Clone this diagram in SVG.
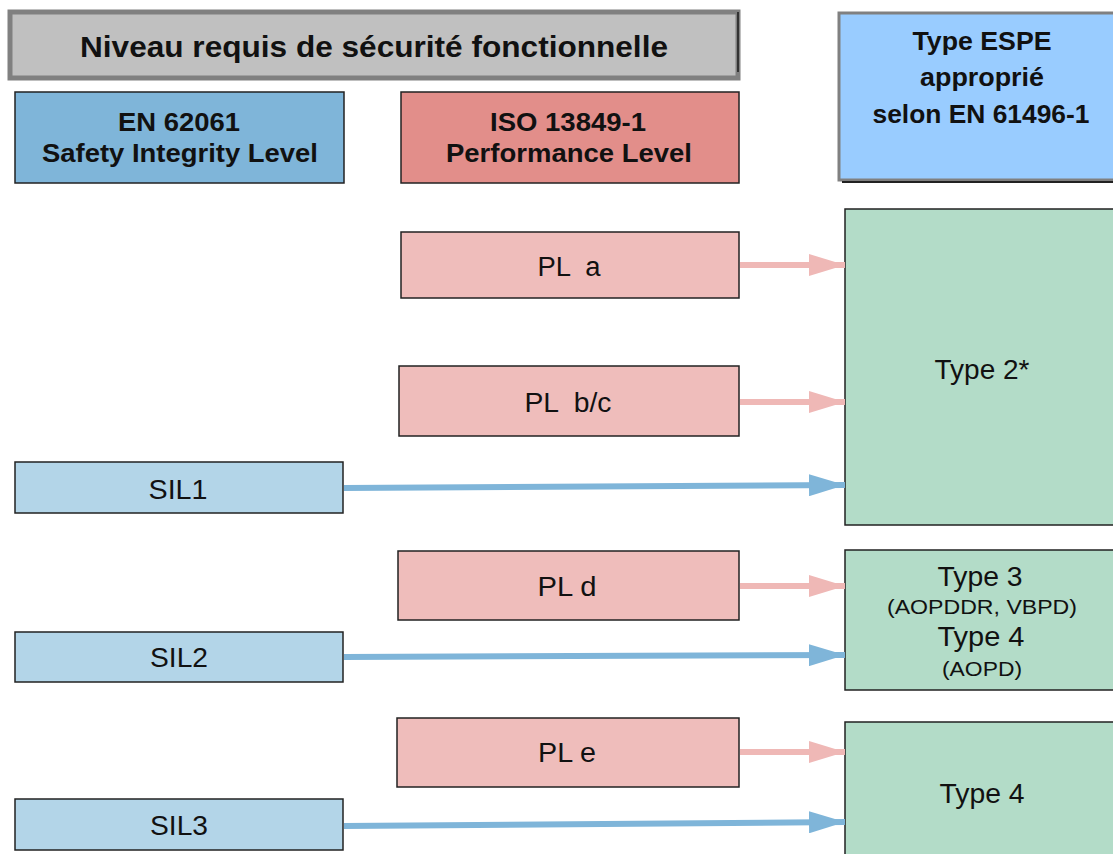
<svg xmlns="http://www.w3.org/2000/svg" width="1113" height="854" viewBox="0 0 1113 854">
<style>
text{font-family:"Liberation Sans",Arial,sans-serif;fill:#111;text-anchor:middle}
.b{font-weight:bold}
.box{stroke:#222;stroke-width:1.5}
.pl{fill:#efbdbb}
.sil{fill:#b3d5e8}
.ty{fill:#b3dcc8}
.t26{font-size:27px}
.t22{font-size:25px}
.t18{font-size:20px}
</style>
<defs>
<marker id="ap" viewBox="0 0 36 22" refX="36" refY="11" markerWidth="6" markerHeight="3.67" markerUnits="strokeWidth" orient="auto"><path d="M0,0L36,11L0,22z" fill="#efb8b6"/></marker>
<marker id="ab" viewBox="0 0 36 22" refX="36" refY="11" markerWidth="6" markerHeight="3.67" markerUnits="strokeWidth" orient="auto"><path d="M0,0L36,11L0,22z" fill="#7fb5d9"/></marker>
</defs>
<rect width="1113" height="854" fill="#fff"/>
<g id="title">
<rect x="10" y="12" width="728" height="66" fill="#c0c0c0" stroke="#808080" stroke-width="5"/>
<line x1="738" y1="12" x2="738" y2="72" stroke="#333" stroke-width="2"/>
<text x="374" y="57" class="b" font-size="30" textLength="588" lengthAdjust="spacingAndGlyphs">Niveau requis de sécurité fonctionnelle</text>
</g>
<g id="en62061">
<rect x="15" y="92" width="329" height="91" fill="#7fb5d9" class="box"/>
<text x="179" y="131" class="b t22" textLength="122" lengthAdjust="spacingAndGlyphs">EN 62061</text>
<text x="180" y="162" class="b t22" textLength="276" lengthAdjust="spacingAndGlyphs">Safety Integrity Level</text>
</g>
<g id="iso13849">
<rect x="401" y="92" width="338" height="91" fill="#e28e8a" class="box"/>
<text x="568" y="131" class="b t22" textLength="156" lengthAdjust="spacingAndGlyphs">ISO 13849-1</text>
<text x="569" y="162" class="b t22" textLength="246" lengthAdjust="spacingAndGlyphs">Performance Level</text>
</g>
<g id="espe">
<rect x="839" y="13" width="280" height="167" fill="#99ccff" stroke="#808080" stroke-width="3"/>
<line x1="842" y1="182" x2="1113" y2="182" stroke="#222" stroke-width="2"/>
<text x="982" y="50" class="b t22" textLength="139" lengthAdjust="spacingAndGlyphs">Type ESPE</text>
<text x="982" y="86" class="b t22" textLength="124" lengthAdjust="spacingAndGlyphs">approprié</text>
<text x="981" y="123" class="b t22" textLength="217" lengthAdjust="spacingAndGlyphs">selon EN 61496-1</text>
</g>
<g id="pla">
<rect x="401" y="232" width="338" height="66" class="box pl"/>
<text x="569" y="276" class="t26" xml:space="preserve" textLength="63" lengthAdjust="spacingAndGlyphs">PL  a</text>
</g>
<g id="plbc">
<rect x="399" y="366" width="340" height="70" class="box pl"/>
<text x="568" y="412" class="t26" xml:space="preserve" textLength="87" lengthAdjust="spacingAndGlyphs">PL  b/c</text>
</g>
<g id="sil1">
<rect x="15" y="462" width="328" height="51" class="box sil"/>
<text x="178" y="499" class="t26" textLength="59" lengthAdjust="spacingAndGlyphs">SIL1</text>
</g>
<g id="type2">
<rect x="845" y="209" width="280" height="316" class="box ty"/>
<text x="982" y="379" class="t26" textLength="95" lengthAdjust="spacingAndGlyphs">Type 2*</text>
</g>
<g id="pld">
<rect x="398" y="551" width="341" height="69" class="box pl"/>
<text x="567" y="596" class="t26" textLength="59" lengthAdjust="spacingAndGlyphs">PL d</text>
</g>
<g id="type34">
<rect x="845" y="550" width="280" height="140" class="box ty"/>
<text x="980" y="586" class="t26" textLength="85" lengthAdjust="spacingAndGlyphs">Type 3</text>
<text x="982" y="614" class="t18" textLength="190" lengthAdjust="spacingAndGlyphs">(AOPDDR, VBPD)</text>
<text x="981" y="646" class="t26" textLength="87" lengthAdjust="spacingAndGlyphs">Type 4</text>
<text x="982" y="676" class="t18" textLength="80" lengthAdjust="spacingAndGlyphs">(AOPD)</text>
</g>
<g id="sil2">
<rect x="15" y="632" width="328" height="50" class="box sil"/>
<text x="179" y="667" class="t26" textLength="58" lengthAdjust="spacingAndGlyphs">SIL2</text>
</g>
<g id="ple">
<rect x="397" y="718" width="342" height="69" class="box pl"/>
<text x="567" y="762" class="t26" textLength="58" lengthAdjust="spacingAndGlyphs">PL e</text>
</g>
<g id="type4">
<rect x="845" y="722" width="280" height="140" class="box ty"/>
<text x="982" y="803" class="t26" textLength="85" lengthAdjust="spacingAndGlyphs">Type 4</text>
</g>
<g id="sil3">
<rect x="15" y="799" width="328" height="51" class="box sil"/>
<text x="179" y="835" class="t26" textLength="58" lengthAdjust="spacingAndGlyphs">SIL3</text>
</g>
<g id="connectors" fill="none" stroke-width="6">
<line x1="740" y1="265" x2="845" y2="265" stroke="#efb8b6" marker-end="url(#ap)"/>
<line x1="740" y1="402" x2="845" y2="402" stroke="#efb8b6" marker-end="url(#ap)"/>
<line x1="740" y1="586" x2="845" y2="586" stroke="#efb8b6" marker-end="url(#ap)"/>
<line x1="740" y1="752" x2="845" y2="752" stroke="#efb8b6" marker-end="url(#ap)"/>
<line x1="344" y1="488" x2="845" y2="485" stroke="#7fb5d9" marker-end="url(#ab)"/>
<line x1="344" y1="657" x2="845" y2="655" stroke="#7fb5d9" marker-end="url(#ab)"/>
<line x1="344" y1="826" x2="845" y2="822" stroke="#7fb5d9" marker-end="url(#ab)"/>
</g>
</svg>
